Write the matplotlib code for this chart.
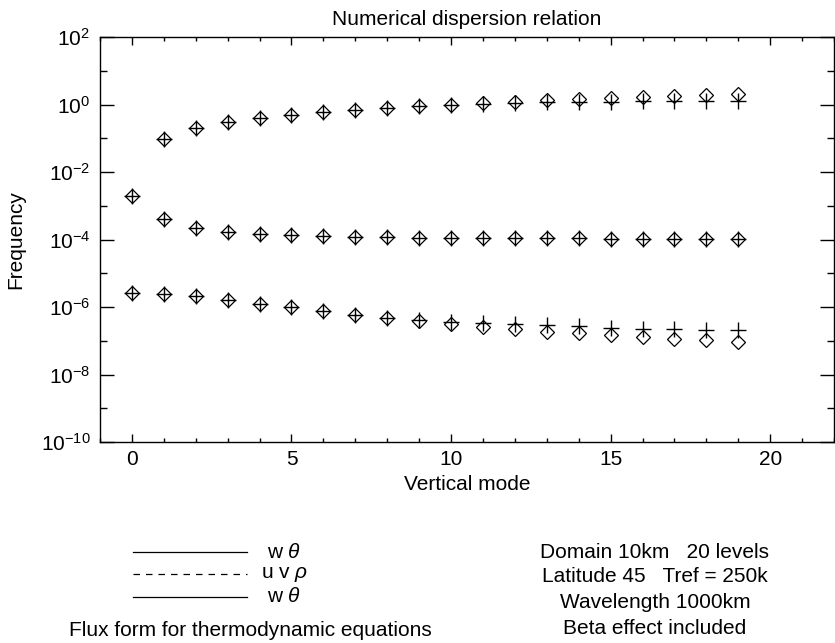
import matplotlib
matplotlib.use('Agg')
import matplotlib.pyplot as plt
from matplotlib.lines import Line2D
from matplotlib.ticker import NullFormatter

plt.rcParams['font.family'] = ['Liberation Sans', 'DejaVu Sans']
plt.rcParams['mathtext.fontset'] = 'custom'
plt.rcParams['mathtext.rm'] = 'Liberation Sans'
plt.rcParams['mathtext.it'] = 'Liberation Sans:italic'
plt.rcParams['mathtext.bf'] = 'Liberation Sans:bold'

# ---------------- data ----------------
modes_top = list(range(1, 20))
modes_all = list(range(0, 20))

top_diamond = [0.098, 0.204, 0.30, 0.40, 0.49, 0.59, 0.69, 0.80, 0.89, 1.00,
               1.10, 1.20, 1.34, 1.50, 1.61, 1.72, 1.81, 1.89, 2.03]
top_plus = [0.098, 0.204, 0.30, 0.40, 0.49, 0.59, 0.69, 0.80, 0.89, 0.99,
            1.07, 1.12, 1.16, 1.19, 1.21, 1.23, 1.25, 1.26, 1.27]

mid_diamond = [2.0e-3, 4.0e-4, 2.2e-4, 1.7e-4, 1.45e-4, 1.32e-4, 1.24e-4, 1.18e-4,
               1.15e-4, 1.12e-4, 1.11e-4, 1.10e-4, 1.09e-4, 1.08e-4, 1.08e-4,
               1.07e-4, 1.07e-4, 1.07e-4, 1.06e-4, 1.06e-4]
mid_plus = [2.0e-3, 4.0e-4, 2.2e-4, 1.7e-4, 1.45e-4, 1.32e-4, 1.24e-4, 1.18e-4,
            1.15e-4, 1.12e-4, 1.11e-4, 1.10e-4, 1.09e-4, 1.08e-4, 1.08e-4,
            1.07e-4, 1.07e-4, 1.07e-4, 1.06e-4, 1.06e-4]

low_diamond = [2.6e-6, 2.45e-6, 2.1e-6, 1.6e-6, 1.23e-6, 9.8e-7, 7.5e-7, 5.9e-7,
               4.7e-7, 3.9e-7, 3.2e-7, 2.6e-7, 2.2e-7, 1.85e-7, 1.65e-7, 1.48e-7,
               1.3e-7, 1.16e-7, 1.07e-7, 9.5e-8]
low_plus = [2.6e-6, 2.45e-6, 2.1e-6, 1.6e-6, 1.23e-6, 9.8e-7, 7.5e-7, 5.9e-7,
            4.7e-7, 4.0e-7, 3.6e-7, 3.3e-7, 3.05e-7, 2.85e-7, 2.65e-7, 2.45e-7,
            2.3e-7, 2.2e-7, 2.12e-7, 2.05e-7]

ytick_major = [1e2, 1e0, 1e-2, 1e-4, 1e-6, 1e-8, 1e-10]
ytick_minor = [1e1, 1e-1, 1e-3, 1e-5, 1e-7, 1e-9]
xtick_major = [0, 5, 10, 15, 20]

title = "Numerical dispersion relation"
xlabel = "Vertical mode"
ylabel = "Frequency"
legend_labels = ["w $\\theta$", "u v $\\rho$", "w $\\theta$"]
legend_styles = ["-", "--", "-"]
left_note = "Flux form for thermodynamic equations"
right_notes = ["Domain 10km   20 levels", "Latitude 45   Tref = 250k",
               "Wavelength 1000km", "Beta effect included"]

# ---------------- figure ----------------
W, H = 835, 643
fig = plt.figure(figsize=(W / 100, H / 100), dpi=100)
ax = fig.add_axes([100 / W, 1 - 442 / H, 734 / W, 405 / H])

FS = 15
dkw = dict(marker='D', markersize=7.4, markerfacecolor='none',
           markeredgecolor='black', markeredgewidth=0.9, linestyle='none')
pkw = dict(marker='+', markersize=11, markeredgecolor='black',
           markeredgewidth=1.0, linestyle='none')

ax.plot(modes_top, top_diamond, **dkw)
ax.plot(modes_top, top_plus, **pkw)
ax.plot(modes_all, mid_diamond, **dkw)
ax.plot(modes_all, mid_plus, **pkw)
ax.plot(modes_all, low_diamond, **dkw)
ax.plot(modes_all, low_plus, **pkw)

ax.set_yscale('log')
ax.set_ylim(1e-10, 1e2)
ax.set_xlim(-1, 22)
ax.set_yticks(ytick_major)
ax.set_yticks(ytick_minor, minor=True)
ax.yaxis.set_minor_formatter(NullFormatter())
ax.set_xticks(xtick_major)
ax.set_xticks(range(-1, 23), minor=True)

ax.tick_params(which='both', direction='in', top=True, right=True,
               labelsize=FS, colors='black', width=1.0)
ax.tick_params(axis='y', which='major', length=10, pad=7)
ax.tick_params(axis='y', which='minor', length=5)
ax.tick_params(axis='x', which='major', length=5.8, pad=6)
ax.tick_params(axis='x', which='minor', length=2.9)
for s in ax.spines.values():
    s.set_linewidth(1.0)
    s.set_color('black')

ax.set_title(title, fontsize=FS, pad=8.5)
ax.set_xlabel(xlabel, fontsize=FS, labelpad=4)
ax.set_ylabel(ylabel, fontsize=FS, labelpad=11)

# ---------------- legend / notes ----------------
leg_y = [552, 574, 597]
for y, ls, lab in zip(leg_y, legend_styles, legend_labels):
    ln = Line2D([133 / W, 247 / W], [1 - y / H, 1 - y / H], transform=fig.transFigure,
                color='black', lw=0.9, linestyle=ls)
    if ls == '--':
        ln.set_dashes((5.2, 4.8))
    fig.add_artist(ln)
    fig.text(284 / W, 1 - y / H, lab, fontsize=FS, ha='center', va='center')

fig.text(250 / W, 1 - 630 / H, left_note, fontsize=FS, ha='center', va='center')

note_y = [552, 577, 603, 628]
for y, t in zip(note_y, right_notes):
    fig.text(655 / W, 1 - y / H, t, fontsize=FS, ha='center', va='center')

fig.savefig('out.png', dpi=100)
